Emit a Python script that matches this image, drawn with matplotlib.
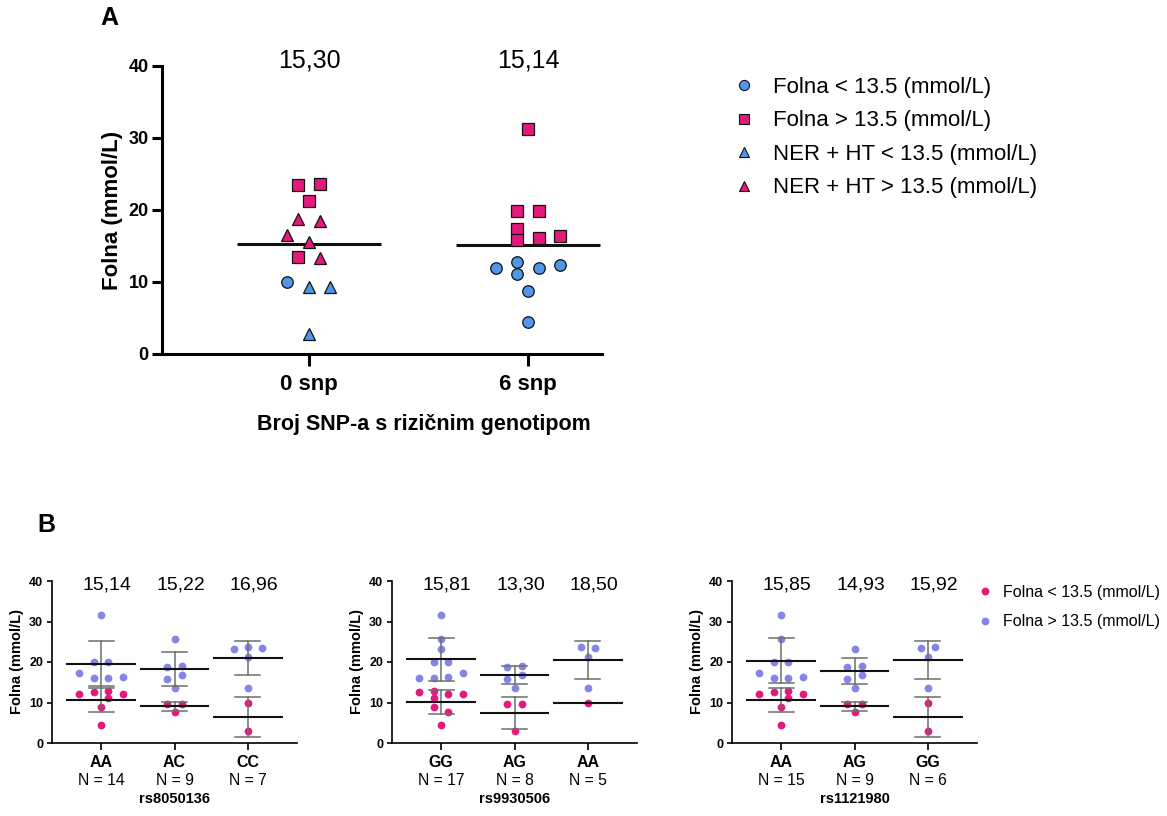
import matplotlib
matplotlib.use('Agg')
import matplotlib.pyplot as plt
from matplotlib.lines import Line2D
import matplotlib.transforms as mtransforms
import numpy as np

plt.rcParams['font.family'] = ['Liberation Sans', 'DejaVu Sans']

# ---------------- Data: panel A ----------------
A_groups = ["0 snp", "6 snp"]
A_means = [15.30, 15.14]
A_mean_labels = ["15,30", "15,14"]
A_legend_labels = ["Folna < 13.5 (mmol/L)", "Folna > 13.5 (mmol/L)",
                   "NER + HT < 13.5 (mmol/L)", "NER + HT > 13.5 (mmol/L)"]
# values per group
A_folna_low = [[10.0], [12.0, 12.8, 11.1, 12.0, 12.4, 8.8, 4.4]]
A_folna_high = [[23.5, 23.6, 21.3, 13.5], [31.3, 19.9, 19.9, 17.4, 15.9, 16.1, 16.4]]
A_ner_low = [[9.3, 9.35, 2.8], []]
A_ner_high = [[18.8, 18.5, 16.5, 15.5, 13.4], []]
# jitter columns (layout)
A_folna_low_col = [[-2], [-3, -1, -1, 1, 3, 0, 0]]
A_folna_high_col = [[-1, 1, 0, -1], [0, -1, 1, -1, -1, 1, 3]]
A_ner_low_col = [[0, 2, 0], []]
A_ner_high_col = [[-1, 1, -2, 0, 1], []]

# ---------------- Data: panel B ----------------
B_snps = ["rs8050136", "rs9930506", "rs1121980"]
B_genotypes = [["AA", "AC", "CC"], ["GG", "AG", "AA"], ["AA", "AG", "GG"]]
B_n = [[14, 9, 7], [17, 8, 5], [15, 9, 6]]
B_mean_labels = [["15,14", "15,22", "16,96"], ["15,81", "13,30", "18,50"],
                 ["15,85", "14,93", "15,92"]]
B_legend_labels = ["Folna < 13.5 (mmol/L)", "Folna > 13.5 (mmol/L)"]

B_high = [
    [[31.5, 19.9, 19.9, 17.4, 16.0, 16.1, 16.4], [25.7, 18.8, 19.0, 15.7, 16.7, 13.7],
     [23.1, 23.6, 23.5, 21.3, 13.7]],
    [[31.5, 25.7, 23.1, 19.9, 19.9, 16.0, 16.1, 16.4, 17.4], [18.8, 19.0, 15.7, 16.7, 13.7],
     [23.6, 23.5, 21.3, 13.7]],
    [[31.5, 25.7, 19.9, 19.9, 17.4, 16.0, 16.1, 16.4], [23.1, 18.8, 19.0, 15.7, 16.7, 13.7],
     [23.5, 23.6, 21.3, 13.7]],
]
B_low = [
    [[12.0, 12.5, 12.9, 11.2, 12.0, 8.9, 4.4], [9.7, 9.7, 7.7], [10.0, 2.9]],
    [[12.5, 12.9, 11.2, 12.0, 12.0, 8.9, 7.7, 4.4], [9.7, 9.7, 2.9], [10.0]],
    [[12.0, 12.5, 12.9, 11.2, 12.0, 8.9, 4.4], [9.7, 9.7, 7.7], [10.0, 2.9]],
]
# jitter columns (layout)
B_high_col = [
    [[0, -1, 1, -3, -1, 1, 3], [0, -1, 1, -1, 1, 0], [-2, 0, 2, 0, 0]],
    [[0, 0, 0, -1, 1, -3, -1, 1, 3], [-1, 1, -1, 1, 0], [-1, 1, 0, 0]],
    [[0, 0, -1, 1, -3, -1, 1, 3], [0, -1, 1, -1, 1, 0], [-1, 1, 0, 0]],
]
B_low_col = [
    [[-3, -1, 1, 1, 3, 0, 0], [-1, 1, 0], [0, 0]],
    [[-3, -1, -1, 1, 3, -1, 1, 0], [-1, 1, 0], [0]],
    [[-3, -1, 1, 1, 3, 0, 0], [-1, 1, 0], [0, 0]],
]

# ---------------- Styles ----------------
BLUE = '#4F97E8'
PINK = '#E5197B'
PURPLE = '#8585E6'
GRAY = '#6E6E6E'
W, H = 1167, 816

fig = plt.figure(figsize=(W / 100, H / 100), dpi=100)


def fx(px):
    return px / W


def fy(py):
    return 1 - py / H


# ---------------- Panel A ----------------
axA = fig.add_axes([fx(162), fy(354), fx(602) - fx(162), fy(66) - fy(354)])
jA = 0.049
for gi in range(len(A_groups)):
    axA.plot([gi - 0.33, gi + 0.33], [A_means[gi]] * 2, color='#111111', lw=2.2,
             solid_capstyle='butt', zorder=2)
    series = [
        (A_folna_low, A_folna_low_col, 'o', BLUE),
        (A_folna_high, A_folna_high_col, 's', PINK),
        (A_ner_low, A_ner_low_col, '^', BLUE),
        (A_ner_high, A_ner_high_col, '^', PINK),
    ]
    for vals, cols, mk, col in series:
        if len(vals[gi]) == 0:
            continue
        x = gi + np.array(cols[gi]) * jA
        axA.plot(x, vals[gi], ls='none', marker=mk, ms=8.3, mfc=col, mec='#111111',
                 mew=0.9, zorder=3)
    axA.text(gi, 39.8, A_mean_labels[gi], ha='center', va='baseline', fontsize=18,
             clip_on=False)

axA.set_xlim(-0.671, 1.338)
axA.set_ylim(0, 40)
axA.set_yticks([0, 10, 20, 30, 40])
axA.set_xticks(range(len(A_groups)))
axA.set_xticklabels(A_groups, fontsize=16, fontweight='bold')
for lab in axA.get_yticklabels():
    lab.set_fontweight('bold')
    lab.set_fontsize(13)
for s in ['top', 'right']:
    axA.spines[s].set_visible(False)
for s in ['left', 'bottom']:
    axA.spines[s].set_linewidth(2.2)
axA.tick_params(axis='y', length=7.5, width=2.2, pad=2)
axA.tick_params(axis='x', length=8.5, width=2.2, pad=6)
axA.text(-0.1136, 0.5, "Folna (mmol/L)", transform=axA.transAxes, rotation=90,
         ha='center', va='center', fontsize=16, fontweight='bold')
axA.text(0.595, -0.264, "Broj SNP-a s rizičnim genotipom", transform=axA.transAxes,
         ha='center', va='baseline', fontsize=15.5, fontweight='bold')

handlesA = [
    Line2D([], [], ls='none', marker='o', ms=7.3, mfc=BLUE, mec='#111111', mew=0.8),
    Line2D([], [], ls='none', marker='s', ms=7.3, mfc=PINK, mec='#111111', mew=0.8),
    Line2D([], [], ls='none', marker='^', ms=7.3, mfc=BLUE, mec='#111111', mew=0.8),
    Line2D([], [], ls='none', marker='^', ms=7.3, mfc=PINK, mec='#111111', mew=0.8),
]
fig.legend(handlesA, A_legend_labels, loc='upper left', bbox_to_anchor=(fx(733), fy(77)),
           frameon=False, fontsize=16, handlelength=1.0, handletextpad=0.8,
           labelspacing=0.56, borderpad=0, borderaxespad=0)

fig.text(fx(109), fy(18), "A", ha='center', va='center', fontsize=18, fontweight='bold')
fig.text(fx(46), fy(525), "B", ha='center', va='center', fontsize=18, fontweight='bold')

# ---------------- Panel B ----------------
jB = 0.098
B_lefts = [52, 392, 732]
for si in range(len(B_snps)):
    L = B_lefts[si]
    ax = fig.add_axes([fx(L), fy(743), fx(L + 245) - fx(L), fy(581) - fy(743)])
    trans = mtransforms.blended_transform_factory(ax.transData, ax.transAxes)
    for gi in range(3):
        hv = np.array(B_high[si][gi])
        lv = np.array(B_low[si][gi])
        ax.plot(gi + np.array(B_high_col[si][gi]) * jB, hv, ls='none', marker='o', ms=5.6,
                mfc=PURPLE, mec='none', zorder=2)
        ax.plot(gi + np.array(B_low_col[si][gi]) * jB, lv, ls='none', marker='o', ms=5.6,
                mfc=PINK, mec='none', zorder=2)
        for vals in (hv, lv):
            m = vals.mean()
            if len(vals) > 1:
                sd = vals.std(ddof=1)
                ax.plot([gi, gi], [m - sd, m + sd], color=GRAY, lw=1.1, zorder=3)
                for yy in (m - sd, m + sd):
                    ax.plot([gi - 0.17, gi + 0.17], [yy, yy], color=GRAY, lw=1.1, zorder=3)
            ax.plot([gi - 0.46, gi + 0.46], [m, m], color='#111111', lw=1.5, zorder=4)
        ax.text(gi + 0.08, 37.9, B_mean_labels[si][gi], ha='center', va='baseline',
                fontsize=14, clip_on=False)
        ax.text(gi, -0.259, f"N = {B_n[si][gi]}", transform=trans, ha='center',
                va='baseline', fontsize=11.3)
    ax.text(1, -0.372, B_snps[si], transform=trans, ha='center', va='baseline',
            fontsize=10.5, fontweight='bold')
    ax.set_xlim(-0.667, 2.667)
    ax.set_ylim(0, 40)
    ax.set_yticks([0, 10, 20, 30, 40])
    ax.set_xticks(range(3))
    ax.set_xticklabels(B_genotypes[si], fontsize=11.5, fontweight='bold')
    for lab in ax.get_yticklabels():
        lab.set_fontweight('bold')
        lab.set_fontsize(9)
    for s in ['top', 'right']:
        ax.spines[s].set_visible(False)
    for s in ['left', 'bottom']:
        ax.spines[s].set_linewidth(1.2)
    ax.tick_params(axis='y', length=3.8, width=1.2, pad=2.5)
    ax.tick_params(axis='x', length=4.8, width=1.2, pad=4)
    ax.text(-0.141, 0.5, "Folna (mmol/L)", transform=ax.transAxes, rotation=90,
            ha='center', va='center', fontsize=10.5, fontweight='bold')

handlesB = [
    Line2D([], [], ls='none', marker='o', ms=5.6, mfc=PINK, mec='none'),
    Line2D([], [], ls='none', marker='o', ms=5.6, mfc=PURPLE, mec='none'),
]
fig.legend(handlesB, B_legend_labels, loc='upper left', bbox_to_anchor=(fx(977), fy(585)),
           frameon=False, fontsize=11.5, handlelength=1.0, handletextpad=0.6,
           labelspacing=0.9, borderpad=0, borderaxespad=0)

fig.savefig('out.png', dpi=100)
